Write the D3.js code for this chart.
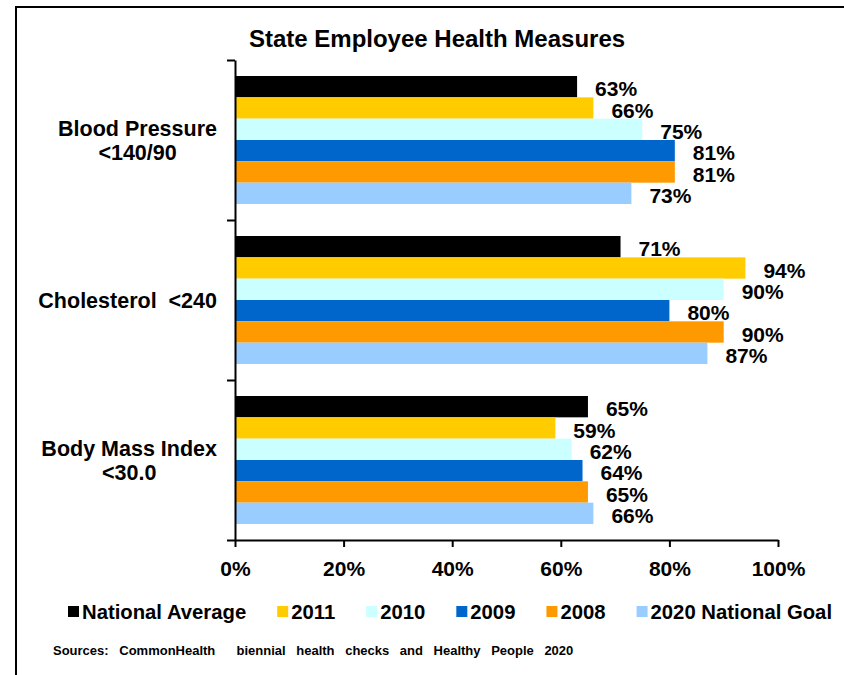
<!DOCTYPE html>
<html>
<head>
<meta charset="utf-8">
<script src="https://cdn.jsdelivr.net/npm/d3@7"></script>
<style>
  html, body { margin: 0; padding: 0; background: #fff; }
  svg { display: block; font-family: Arial, "Liberation Sans", sans-serif; font-weight: bold; }
</style>
</head>
<body>
<svg id="chart" width="844" height="675"></svg>
<script>
// Health measure categories (each entry is the label split into lines)
const categoryLines = [
  ["Blood Pressure", "<140/90"],
  ["Cholesterol  <240"],
  ["Body Mass Index", "<30.0"]
];

// Series names and fills
const seriesNames = ["National Average", "2011", "2010", "2009", "2008", "2020 National Goal"];
const seriesColors = ["#000000", "#FFCC00", "#CCFFFF", "#0066CC", "#FF9900", "#99CCFF"];

// Percent values per series, in category order
const nationalAverage = [63, 71, 65];
const values2011 = [66, 94, 59];
const values2010 = [75, 90, 62];
const values2009 = [81, 80, 64];
const values2008 = [81, 90, 65];
const nationalGoal2020 = [73, 87, 66];

const seriesValues = [nationalAverage, values2011, values2010, values2009, values2008, nationalGoal2020];

// Axis ticks
const xTicks = [0, 20, 40, 60, 80, 100];

const titleText = "State Employee Health Measures";
const sourceText = "Sources: CommonHealth  biennial health checks and Healthy People 2020";

const svg = d3.select("#chart");

// Outer frame
svg.append("rect")
  .attr("x", 16).attr("y", 7)
  .attr("width", 860).attr("height", 700)
  .attr("fill", "none")
  .attr("stroke", "#000")
  .attr("stroke-width", 2);

// Plot geometry
const plotLeft = 235, plotRight = 778, plotTop = 60, plotBottom = 540;

const x = d3.scaleLinear().domain([0, 100]).range([plotLeft, plotRight]);
const catKeys = categoryLines.map((_, i) => i);
const y = d3.scaleBand().domain(catKeys).range([plotTop, plotBottom]).paddingInner(0).paddingOuter(0);
const ySub = d3.scaleBand().domain(seriesNames).range([0, y.bandwidth()]).paddingInner(0).paddingOuter(0.75);

// Flattened bar records
const bars = [];
catKeys.forEach(ci => {
  seriesNames.forEach((s, si) => {
    bars.push({ cat: ci, series: s, color: seriesColors[si], value: seriesValues[si][ci] });
  });
});

// Bars
svg.append("g").selectAll("rect")
  .data(bars)
  .join("rect")
  .attr("x", x(0))
  .attr("y", d => y(d.cat) + ySub(d.series))
  .attr("width", d => x(d.value) - x(0))
  .attr("height", ySub.bandwidth())
  .attr("fill", d => d.color);

// Value labels
svg.append("g").selectAll("text")
  .data(bars)
  .join("text")
  .attr("x", d => x(d.value) + 18)
  .attr("y", d => y(d.cat) + ySub(d.series) + ySub.bandwidth() / 2 + 9.5)
  .attr("font-size", 21)
  .attr("fill", "#000")
  .text(d => d.value + "%");

// Category axis (ticks at category boundaries)
const yBound = d3.scaleLinear().domain([0, categoryLines.length]).range([plotTop, plotBottom]);
const yAxisG = svg.append("g")
  .attr("transform", `translate(${plotLeft},0)`)
  .call(d3.axisLeft(yBound).tickValues(d3.range(categoryLines.length + 1)).tickFormat("").tickSize(8).tickSizeOuter(0));
yAxisG.selectAll("path, line").attr("stroke", "#000").attr("stroke-width", 2);

// Value axis
const xAxisG = svg.append("g")
  .attr("transform", `translate(0,${plotBottom})`)
  .call(d3.axisBottom(x).tickValues(xTicks).tickFormat(d => d + "%").tickSize(7).tickSizeOuter(0));
xAxisG.selectAll("path, line").attr("stroke", "#000").attr("stroke-width", 2);
xAxisG.selectAll("text")
  .attr("y", 36).attr("dy", 0)
  .attr("font-size", 21)
  .attr("font-family", "Arial, 'Liberation Sans', sans-serif")
  .attr("font-weight", "bold")
  .attr("fill", "#000");

// Category labels: lines centred on each other, block right-aligned
const catRight = 217, lineGap = 24;
categoryLines.forEach((lines, ci) => {
  const g = svg.append("g");
  const texts = g.selectAll("text")
    .data(lines)
    .join("text")
    .attr("font-size", 21.5)
    .attr("fill", "#000")
    .attr("text-anchor", "middle")
    .style("white-space", "pre")
    .text(d => d);
  let maxW = 0;
  texts.each(function () { maxW = Math.max(maxW, this.getComputedTextLength()); });
  const cx = catRight - maxW / 2;
  const cy = y(ci) + y.bandwidth() / 2;
  const firstBase = cy + 7.5 - (lines.length - 1) * lineGap / 2;
  texts.attr("x", cx).attr("y", (d, i) => firstBase + i * lineGap);
});

// Title
svg.append("text")
  .attr("x", 437).attr("y", 47)
  .attr("text-anchor", "middle")
  .attr("font-size", 24)
  .attr("fill", "#000")
  .text(titleText);

// Legend
const legendG = svg.append("g");
let lx = 68;
seriesNames.forEach((s, i) => {
  legendG.append("rect")
    .attr("x", lx).attr("y", 606)
    .attr("width", 11).attr("height", 11)
    .attr("fill", seriesColors[i]);
  const t = legendG.append("text")
    .attr("x", lx + 14).attr("y", 619)
    .attr("font-size", 20.3)
    .attr("fill", "#000")
    .text(s);
  lx += 14 + t.node().getComputedTextLength() + 31;
});

// Source note
svg.append("text")
  .attr("x", 53).attr("y", 655)
  .attr("font-size", 13)
  .attr("fill", "#000")
  .style("white-space", "pre")
  .attr("word-spacing", 7)
  .text(sourceText);
</script>
</body>
</html>
